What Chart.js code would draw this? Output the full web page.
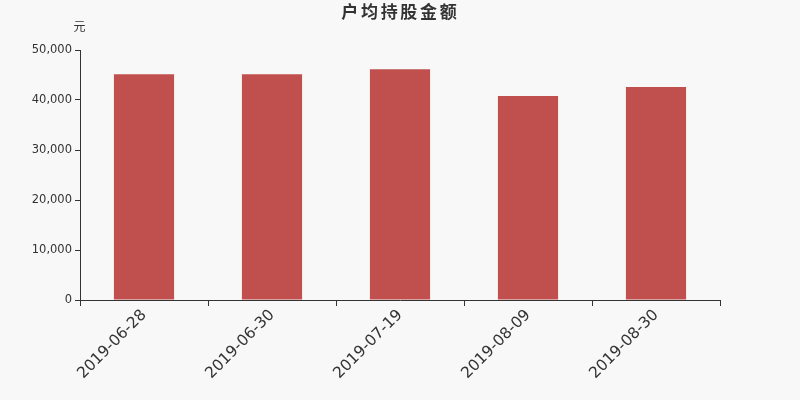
<!DOCTYPE html>
<html><head><meta charset="utf-8">
<script src="https://cdn.jsdelivr.net/npm/chart.js@4/dist/chart.umd.min.js"></script>
<style>html,body{margin:0;padding:0;background:#f8f8f8;}#wrap{width:800px;height:400px;}</style>
</head><body><div id="wrap"><canvas id="c" width="800" height="400"></canvas></div>
<script>
const categories = ['2019-06-28','2019-06-30','2019-07-19','2019-08-09','2019-08-30'];
const values = [45150, 45150, 46150, 40800, 42600];
const yTicks = [0, 10000, 20000, 30000, 40000, 50000];
const titleText = '户均持股金额';
const unitText = '元';
const FONT = '"DejaVu Sans", "Noto Sans CJK SC", sans-serif';

const deco = {
  id: 'deco',
  beforeDraw(chart) {
    const ctx = chart.ctx;
    ctx.save();
    ctx.fillStyle = '#f8f8f8';
    ctx.fillRect(0, 0, chart.width, chart.height);
    ctx.restore();
  },
  afterDraw(chart) {
    const ctx = chart.ctx;
    ctx.save();
    ctx.fillStyle = '#333';
    ctx.textAlign = 'center';
    ctx.textBaseline = 'middle';
    ctx.font = 'bold 17px ' + FONT;
    const chars = Array.from(titleText);
    const pitch = 19.7;
    const x0 = 399 - pitch * (chars.length - 1) / 2;
    chars.forEach((ch, i) => ctx.fillText(ch, x0 + i * pitch, 14));
    ctx.font = '12px ' + FONT;
    ctx.fillText(unitText, 79.5, 28);
    ctx.restore();
  }
};

new Chart(document.getElementById('c'), {
  type: 'bar',
  data: { labels: categories, datasets: [{ data: values, backgroundColor: '#c0504d', barPercentage: 0.47, categoryPercentage: 1.0 }] },
  options: {
    responsive: false, animation: false,
    layout: { padding: { top: 50, right: 80, left: 0, bottom: 0 } },
    plugins: { legend: { display: false }, title: { display: false }, tooltip: { enabled: false } },
    scales: {
      x: {
        grid: { display: true, drawOnChartArea: false, drawTicks: true, tickLength: 6, color: '#333', offset: true },
        border: { color: '#333', width: 1 },
        ticks: { color: '#333', font: { family: FONT, size: 15.5 }, maxRotation: 45, minRotation: 45, padding: 0 },
        afterFit(s) { s.height = 100; }
      },
      y: {
        min: 0, max: 50000,
        afterBuildTicks(s) { s.ticks = yTicks.map(v => ({ value: v })); },
        grid: { display: true, drawOnChartArea: false, drawTicks: true, tickLength: 5, color: '#333' },
        border: { color: '#333', width: 1 },
        ticks: { color: '#333', font: { family: FONT, size: 11.5 }, padding: 3,
          callback: v => v.toLocaleString('en-US') },
        afterFit(s) { s.width = 80; }
      }
    }
  },
  plugins: [deco]
});
</script></body></html>
